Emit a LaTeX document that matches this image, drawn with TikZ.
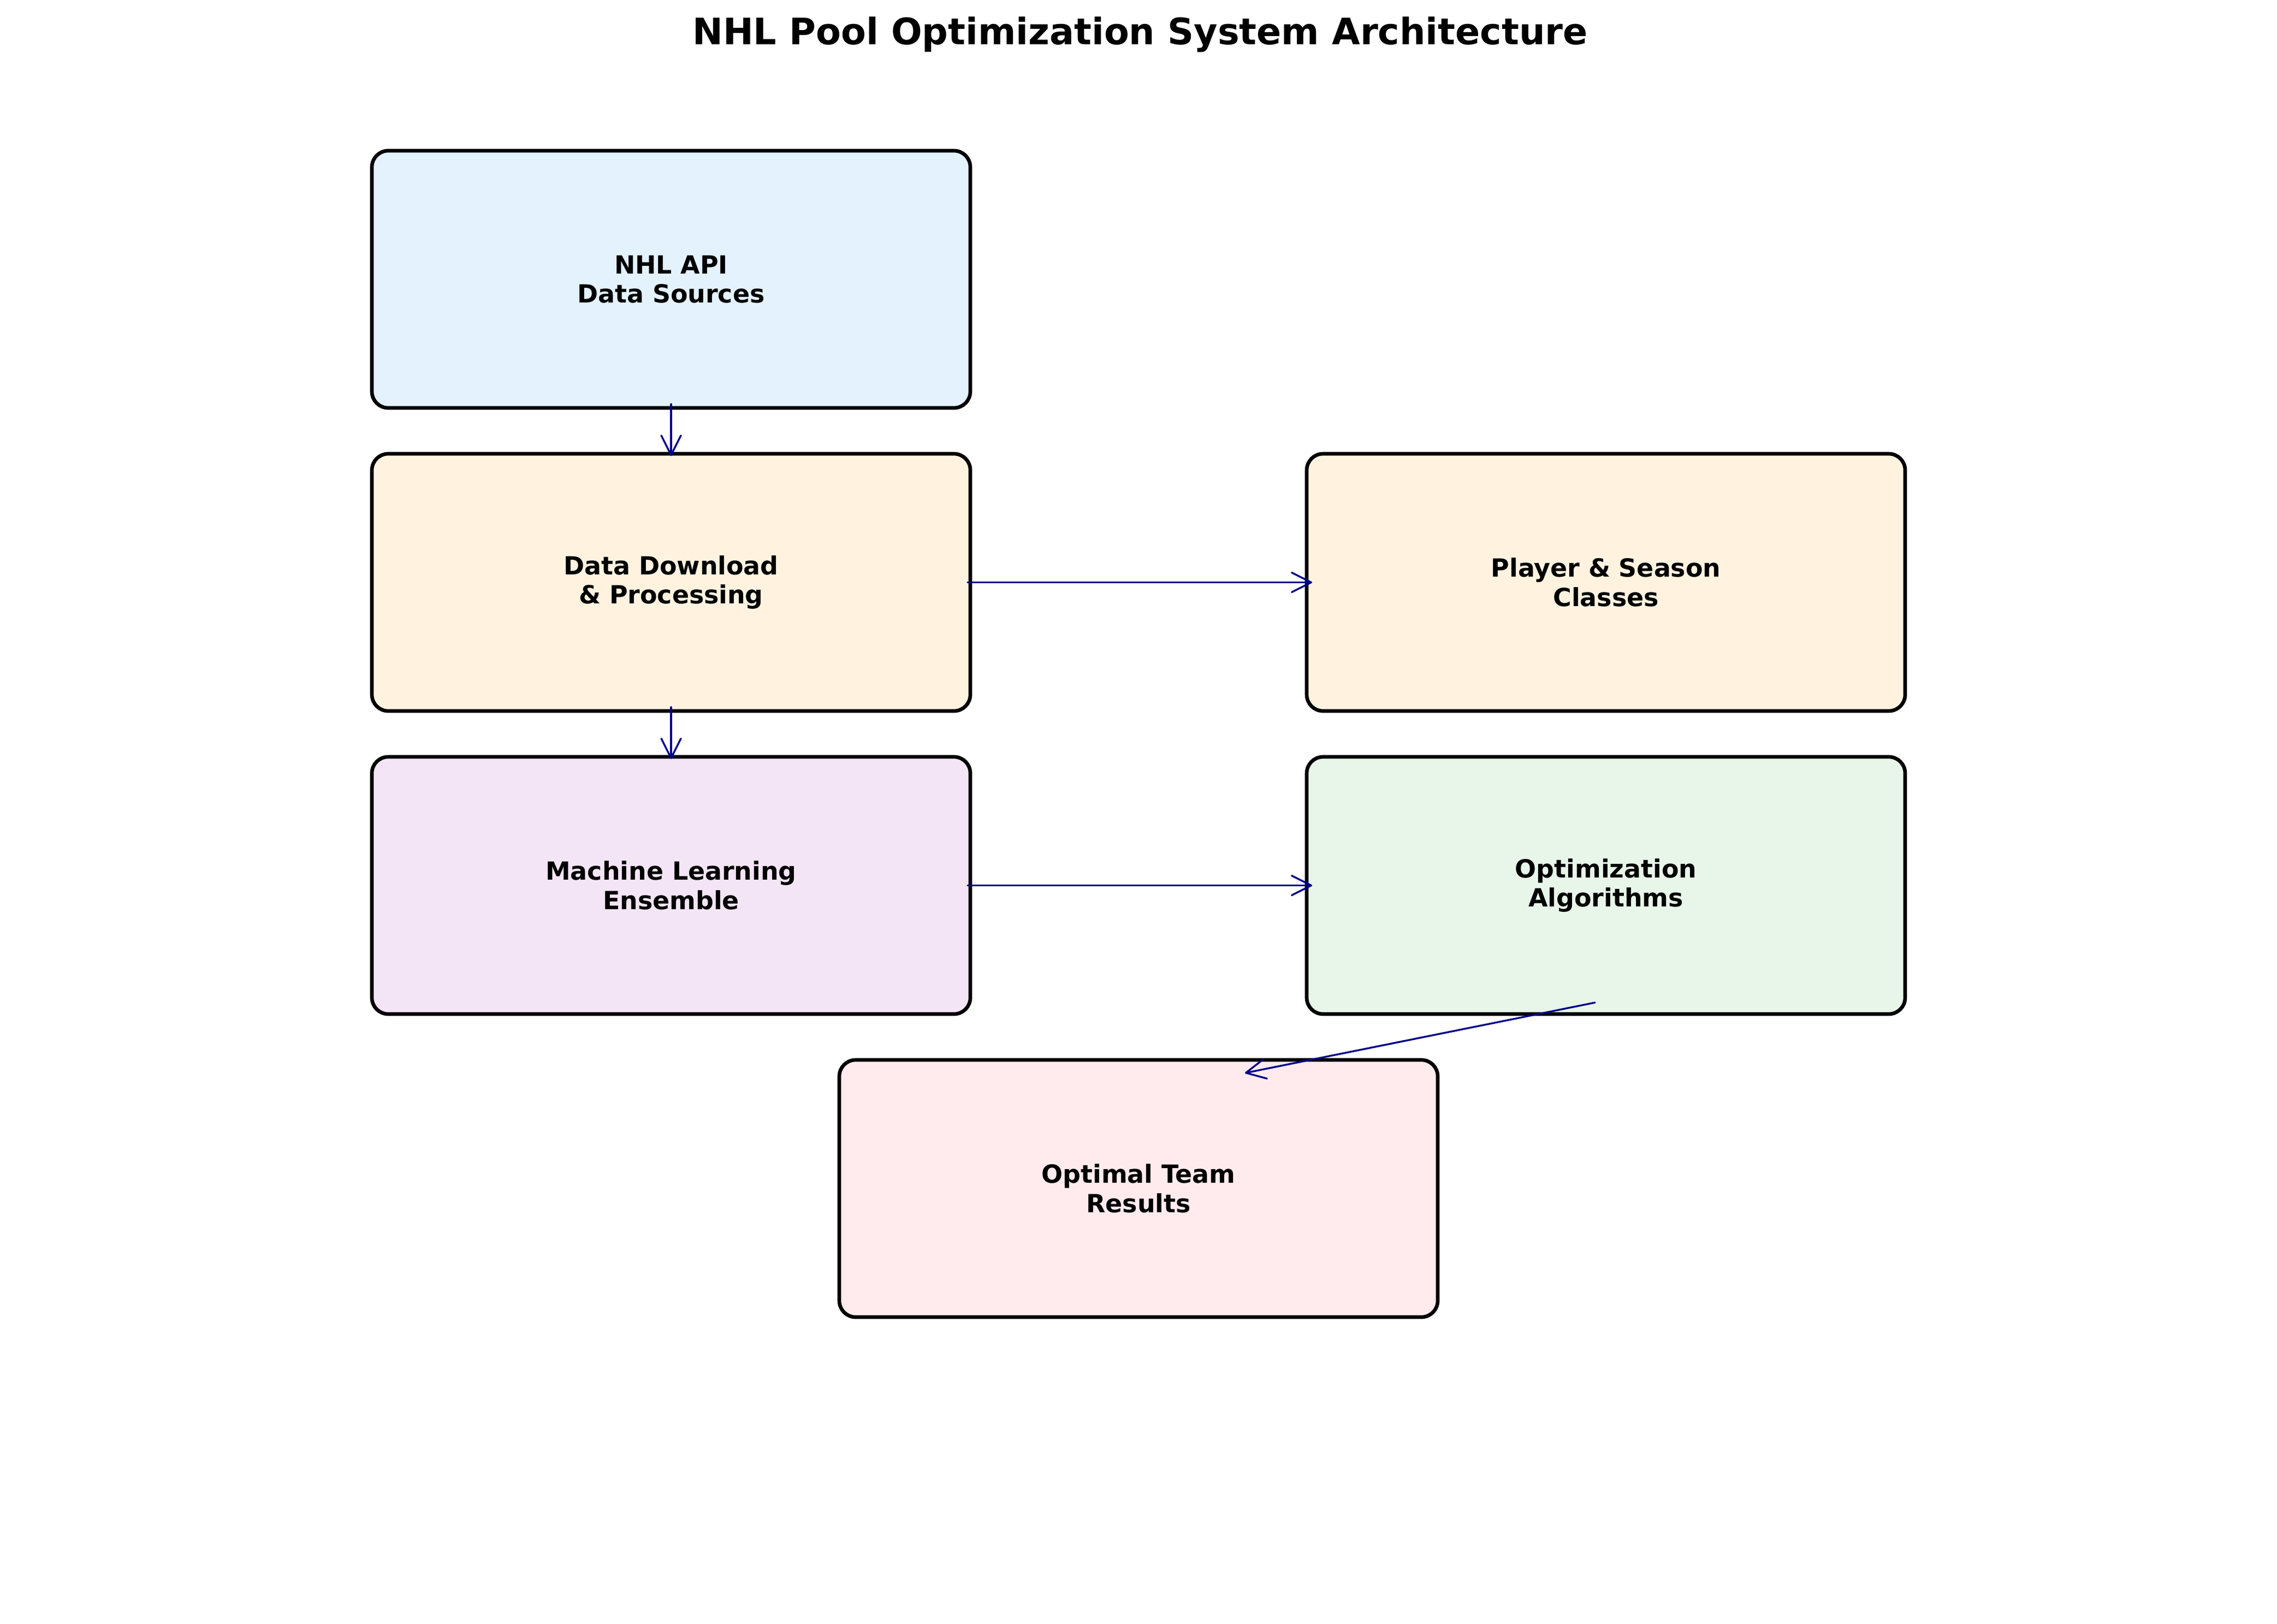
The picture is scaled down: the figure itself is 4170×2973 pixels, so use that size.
\documentclass[tikz,border=0pt]{standalone}
\usepackage{fontspec}
\setmainfont{DejaVu Sans}
\usetikzlibrary{arrows.meta,calc}
\definecolor{apifill}{HTML}{E3F2FD}
\definecolor{orangefill}{HTML}{FFF3E0}
\definecolor{mlfill}{HTML}{F3E5F5}
\definecolor{optfill}{HTML}{E8F5E9}
\definecolor{resfill}{HTML}{FFEBEE}
\definecolor{arrowc}{HTML}{00008B}
\begin{document}
\begin{tikzpicture}[x=0.24pt,y=-0.24pt,
  box/.style={draw=black,line width=1.6pt,rounded corners=7.2pt,
    minimum width=263.04pt,minimum height=113.04pt,inner sep=0pt,outer sep=0pt,
    align=center,font=\fontsize{11}{12.8}\selectfont\bfseries},
  flow/.style={draw=arrowc,line width=0.8pt,line cap=round,
    -{Straight Barb[length=8.6pt,width=8.6pt,round]}}]
\useasboundingbox (0,0) rectangle (4170,2973);
\fill[white] (0,0) rectangle (4170,2973);
\node[font=\fontsize{16}{19}\selectfont\bfseries,anchor=base,inner sep=0pt] (title) at (2088,82) {NHL Pool Optimization System Architecture};
\node[box,fill=apifill] (api) at (1229,511.5) {NHL API\\Data Sources};
\node[box,fill=orangefill] (dl) at (1229,1066.5) {Data Download\\\& Processing};
\node[box,fill=orangefill] (ps) at (2941,1066.5) {Player \& Season\\Classes};
\node[box,fill=mlfill] (ml) at (1229,1621.5) {Machine Learning\\Ensemble};
\node[box,fill=optfill] (opt) at (2941,1621.5) {Optimization\\Algorithms};
\node[box,fill=resfill] (res) at (2085,2176.5) {Optimal Team\\Results};
\draw[flow] ($(api.south)+(0,-7)$) -- ($(dl.north)+(0,4)$);
\draw[flow] ($(dl.east)+(-5,0)$) -- ($(ps.west)+(10,0)$);
\draw[flow] ($(dl.south)+(0,-7)$) -- ($(ml.north)+(0,4)$);
\draw[flow] ($(ml.east)+(-5,0)$) -- ($(opt.west)+(10,0)$);
\draw[flow] ($(opt.center)+(-20,214.5)$) -- ($(res.center)+(195,-211.5)$);
\end{tikzpicture}
\end{document}
